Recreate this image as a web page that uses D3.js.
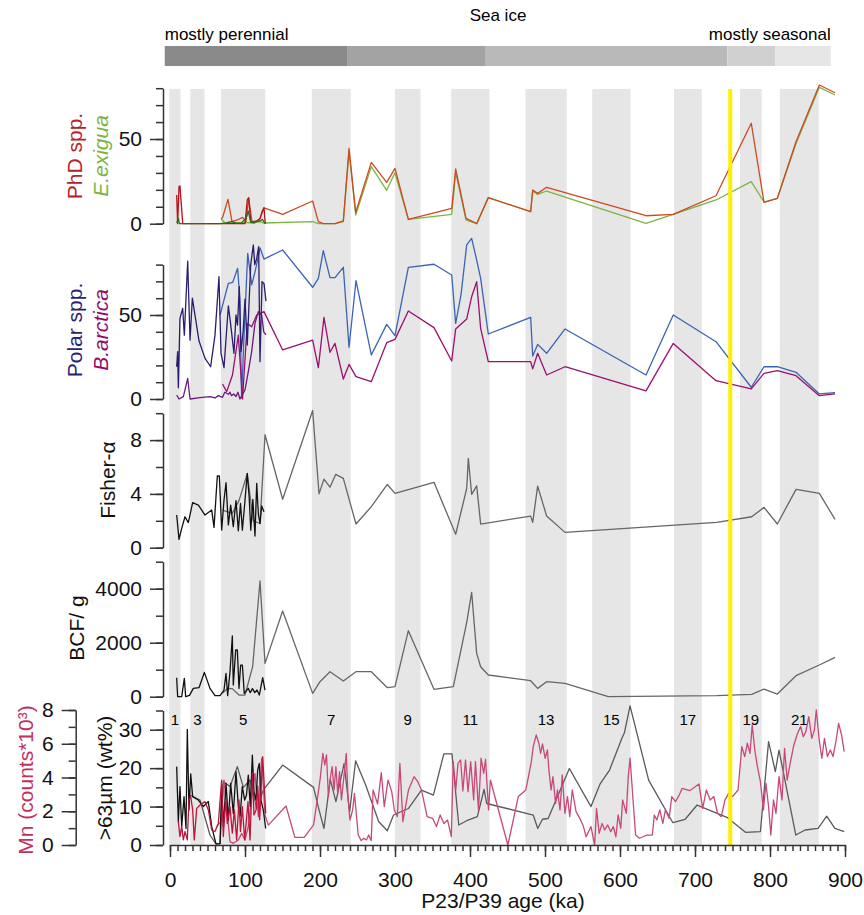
<!DOCTYPE html>
<html>
<head>
<meta charset="utf-8">
<script src="https://cdn.jsdelivr.net/npm/d3@7"></script>
<style>
  body { margin: 0; background: #fff; }
  text { font-family: "Liberation Sans", Arial, sans-serif; }
</style>
</head>
<body>
<div id="chart"></div>
<script>
// ---- data (age ka, value) ----
var phdP23 = [[8.9,16.9],[10.2,0],[12,21.9],[13.3,22.3],[17,0],[66.7,0],[100,0],[103,14],[104.9,15.4],[107.6,1.2],[112,1],[116,1.5],[120,3],[122.7,7],[125.3,9.4],[127,0]];
var exiguaP23 = [[8.9,0.5],[11.1,3.1],[12.5,0],[66.7,0],[75,0.5],[82,1.2],[88,0.3],[95,0.5],[101.3,3.1],[104.4,7.5],[107.6,1],[112,0.5],[116,1.5],[120,1.6],[123,2.5],[127,0]];
var phdP39 = [[68,3],[70,3.5],[77.3,14.4],[82.7,1.2],[89.8,2.2],[96.9,3.7],[101.3,1.2],[104.9,15],[109.3,1.2],[115.6,1.6],[120,3.1],[125.3,9.4],[150.2,5.5],[190.2,13.4],[197.8,1.2],[204.4,0],[220,0],[231.1,1.6],[238.7,44.5],[247.6,6.7],[268.4,36.2],[288.9,24.4],[300,32.7],[317.8,2.6],[375.6,9],[380.9,32.3],[394.7,3.1],[408.9,0],[424.4,15.4],[480.9,7.1],[483.6,19.9],[490.2,17.9],[502.2,21.5],[634.7,4.7],[671,5.5],[728,16.5],[775,59.3],[792,12.6],[809.8,15],[834.7,48.4],[865.8,81.9],[886.7,77.3]];
var exiguaP39 = [[68,3],[73.3,0.4],[82,1.2],[90,0.4],[100,0.8],[110,0.4],[120,1.2],[125.3,0.4],[190.2,1.2],[197.8,0],[220,0],[231.1,1.2],[238.7,42.5],[247.6,5.1],[268.4,33.7],[288.9,19.7],[300,30.1],[317.8,2.6],[375.6,5.5],[380.9,30.3],[394.7,2.2],[408.9,0],[424.4,15.4],[480.9,7.1],[483.6,19.3],[490.2,17.3],[502.2,19.3],[634.7,0.2],[671,5.5],[728,14],[775,24.8],[792,12.8],[809.8,15],[834.7,47.4],[865.8,80.5],[886.7,76]];

var polarP23 = [[8.9,19.2],[10.2,28.2],[11.1,6.7],[13.3,48],[16.9,54],[19.1,38],[23.6,82],[26.7,35],[29.8,60],[38.7,34.5],[46.7,24.2],[54.2,19.2],[60,38],[65.3,72.8],[68,27.2],[72,18.7],[77.8,55.4],[80.9,44.4],[85.3,27.2],[88,50],[90,44],[92.4,66.9],[94.7,28.2],[97.5,40],[100,59.5],[103,32.1],[107.6,79.8],[111.1,91.7],[113,80],[115.6,83.7],[118.2,90.7],[120,22.2],[122.7,69.8],[125.3,68.8],[128,58.3]];
var polarP39 = [[66.7,50],[77.8,68.8],[83.6,69.4],[90.2,77.8],[93,60],[95.5,0.5],[98,30],[103.6,86.7],[108.9,67.9],[113,75],[117.8,84.7],[120,90],[125.3,83.3],[150.2,88.7],[190.2,66.5],[197.8,71.8],[204.4,88.3],[213.3,72.2],[220,72.2],[231.1,78.4],[238.7,30.8],[248,70.4],[268.4,26.2],[288.9,44.4],[300,37.7],[317.8,78.4],[352,80.2],[375.6,73.8],[380.9,45],[388,62],[395.6,91.7],[402.2,95.6],[408.9,82.7],[414.2,71.8],[424.4,38.7],[480.9,48.6],[483.6,25.6],[490.2,32.5],[502.2,27.2],[526.7,41.7],[634.7,14.3],[671,50],[728,34.1],[775,7],[792,19.2],[809.8,19.2],[834.7,15.9],[865.8,3],[886.7,3.8]];
var arcticaP23 = [[8.9,2.4],[12,0],[17.8,1.4],[23.6,12.3],[26.7,0],[40,0.8],[53.3,1.4],[60,0.6],[64.4,2],[70,1],[73,4],[77.8,2.8],[80,4],[82,2],[85,3],[88,1.5],[90.5,4],[93.3,0],[100,5.4],[104.4,16.3],[108.9,28.2],[113.3,45],[117.8,52],[122.2,50],[125,40],[128,38.1]];
var arcticaP39 = [[70,8.9],[75.6,4.4],[83.3,14.3],[91.1,38],[96.7,0],[103,45],[108.9,43],[115.6,50],[125.3,52],[150.2,29.2],[190.2,35.1],[197.8,18.7],[205.3,48.6],[213.3,27.8],[220,33.1],[231.1,11.9],[238.7,20.6],[248,13.3],[268.4,10.3],[288.9,33.5],[300,35.5],[317.8,52.4],[352,42.5],[375.6,22.6],[380.9,41.7],[395.6,47.6],[402.2,60.9],[408.9,69.8],[414.2,42],[424.4,22.2],[480.9,22.2],[483.6,17.9],[490.2,27.2],[502.2,14.3],[526.7,19.2],[634.7,4.8],[671,33.1],[728,10.9],[775,6],[792,15.3],[809.8,16.9],[834.7,13.9],[865.8,2],[886.7,3]];

var fisherP23 = [[8.9,2.43],[12,0.62],[15.6,1.44],[20,2.3],[24.4,1.86],[30.2,3.35],[37.8,3.17],[46.7,2.43],[55.6,2.8],[58.7,1.51],[63.1,5.33],[65.8,5.33],[68.9,1.31],[72,3.54],[74.7,4.83],[77.8,1.69],[80.9,3.17],[84.4,1.56],[88,3.5],[91.1,1.26],[94,3.3],[96.5,1.3],[99.5,3.2],[103,5.53],[105.5,3.8],[107.7,1.3],[110.5,3.6],[113.3,0.87],[115.6,4.78],[117.8,2.5],[120,1.8],[122.2,3.1],[125.3,2.68]];
var fisherP39 = [[70,2.8],[83,2.55],[92,3.5],[103,5.5],[111,2],[120,1.8],[126.7,8.4],[150.2,3.6],[190.2,10.2],[198.7,4],[205.3,5.1],[213.3,4.5],[220.9,5.45],[231.1,5.15],[248,1.76],[268.4,3.05],[289.8,4.7],[300,4.04],[352,4.86],[380.9,1],[395.6,4.4],[397.8,6.64],[402.2,3.97],[408.9,4.6],[414.2,1.76],[480.9,2.35],[483.6,1.88],[490.2,4.58],[502.2,2.35],[526.7,1.14],[728.9,1.88],[775.6,2.3],[792,3.0],[809.8,1.76],[834.7,4.34],[865.8,4.04],[886.7,2.1]];

var bcfP23 = [[8.9,704],[10.2,0],[15.6,0],[19.1,679],[20.9,0],[26,50],[31.1,309],[38.7,333],[45.8,901],[53.3,309],[60,37],[66.7,37],[72,247],[74.7,864],[76.9,37],[80,926],[83.1,2248],[84.4,432],[87.6,1729],[89.8,1729],[92,309],[94.2,1173],[96.5,1173],[99,123],[104.4,309],[107,150],[110,300],[113,150],[116,250],[119.1,62],[123.6,704],[126.7,247]];
var bcfP39 = [[70,123],[76.7,309],[83,300],[92,62],[100,62],[110.2,1111],[120,4285],[126.7,1235],[150.2,3174],[190.2,123],[200,556],[213.3,926],[231.1,580],[248,926],[268.4,926],[289.8,333],[300,370],[317.8,2445],[352,272],[377.8,370],[395.6,2754],[402.2,3866],[408.9,1605],[414.2,1111],[424.4,803],[480.9,593],[490.2,309],[502.2,556],[526.7,494],[584.4,0],[728.9,37],[775.6,86],[792,284],[809.8,99],[834.7,778],[865.8,1173],[886.7,1457]];

var sandP23 = [[8.9,20.4],[11.1,6.1],[13.3,15.2],[15.6,4.8],[18.7,12.6],[21.3,4.3],[23.1,30.1],[25.3,9.1],[27.6,18.5],[30.2,12.6],[37.8,11.7],[44.4,10],[51.1,11.3],[55.6,4.8],[61.3,0.3],[66.7,0.3],[68.9,15.6],[71.1,4.8],[74.7,16],[77.8,6.5],[80.9,16],[84.4,8.2],[88,19.1],[91.1,10],[93.5,7.5],[96.4,15.2],[99.6,11.7],[102,13],[104.4,18.2],[107,10],[109.8,23.4],[112,13.9],[114.7,11.7],[116.9,19.5],[119.1,21.2],[121.3,11.7],[124.4,9.1],[127.6,4.3]];
var sandP39 = [[26.7,13],[40,11.7],[53.3,2.6],[61.3,0.3],[66.7,0.4],[71.1,16.5],[80,15.2],[89.8,20.4],[97.8,15],[106.7,16.9],[115.6,9.5],[124.4,14.3],[150.2,20.8],[191.4,15],[198.8,9.1],[205.3,4.3],[213.7,17.1],[221.2,11.3],[232.1,21.2],[239.5,8.7],[247.5,21.9],[260.9,15.6],[278.2,6.1],[289.7,3.7],[298.1,7.8],[318,9.5],[335.3,14.3],[351.2,13],[365.1,23.7],[376,23.7],[385,5.2],[397.4,6.5],[409.8,7.4],[418.8,14.5],[422.2,10.8],[484.3,7.8],[490.3,4.3],[496.7,6.7],[504.2,6.9],[532.5,19.9],[561.3,10],[573.7,16],[586.1,19.5],[602.5,27.8],[606,29.3],[613.4,36.2],[638.2,16.9],[670.5,5.8],[686.9,6.7],[702.8,10.4],[742.5,7.2],[767.3,3.3],[787.2,3.5],[798.1,26.9],[807.1,19.1],[812,24.7],[834.4,2.6],[846.8,3.9],[864.1,4.3],[875.6,7.5],[886.5,4.3],[899,3.5]];

var mnP23 = [[11.1,1.38],[13.3,0.5],[15.6,1.1],[17.8,0.3],[20,0.8],[23.1,0.3],[25.3,2.67],[27.6,2.87],[30.2,2.08],[32.4,0.3],[35.6,2.17],[40,2.37],[46.7,2.57],[51.1,2.08],[55.6,0.89],[60,0.8],[64.4,1.28],[68.9,3.85],[71.1,0.5],[74.2,2.67],[76.4,1.28],[80,2.27],[83.1,0.7],[85.8,2.08],[88.9,0.3],[92,2.67],[94,0.8],[96.4,2.27],[99.6,0.3],[104,2.57],[106.7,0.3],[109.8,4.25],[112,1.78],[114.7,2.08],[117,3.5],[119.5,1.5],[123.6,5.24],[127.6,1.88]];
var mnP39 = [[62.2,1.08],[67.6,1.38],[72,3.85],[80,0.2],[84.4,0.1],[91.1,0.3],[95.6,0.69],[100,0.3],[104.4,1.08],[108.9,2.87],[113.3,4.25],[117.8,1.68],[122.2,5.14],[126.7,1.78],[131.1,1.18],[154.7,2.31],[166.5,0.45],[179,0.45],[191.4,1.19],[196.3,2.67],[200.3,3.95],[203.8,5.43],[206.3,4.74],[208.7,5.34],[211.2,2.87],[213.7,3.95],[216.2,4.64],[218.7,3.26],[221.2,4.64],[223.6,3.06],[226.1,4.35],[228.6,2.67],[232.1,4.15],[235,5.43],[237.5,2.67],[240,1.48],[243.5,2.08],[246,3.06],[248.5,1.78],[251,0.59],[254.9,0.26],[258.4,0.4],[261.9,0.3],[264.9,0.59],[268.3,0.26],[270.8,3.26],[276.8,2.43],[281.7,4.29],[285.7,2.27],[290.7,3.85],[295.6,3.16],[299.1,2.08],[303.1,1.68],[306.5,4.84],[310.5,1.38],[318,3.26],[325.4,4.05],[330.4,3.75],[335.3,3.26],[342.8,1.68],[350.2,1.58],[355.2,1.09],[360.2,1.78],[365.1,1.28],[370.1,1.48],[375.1,0.49],[377.6,4.94],[381,3.26],[384,4.84],[387.5,5.04],[390.5,3.2],[394,5.04],[397.4,3.16],[400.9,4.94],[404.9,2.67],[407.3,4.94],[411.3,2.08],[414.8,5.14],[418.3,4.25],[420.7,5.08],[424.7,2.08],[427.2,3.85],[450.5,0],[464.4,2.87],[474.4,3.26],[478.4,4.15],[481.8,4.94],[484.3,5.83],[488.3,6.52],[491.8,6.03],[494.2,5.43],[496.7,5.99],[500.2,5.14],[503.2,5.63],[505.2,4.45],[508.1,3.26],[510.6,4.05],[514.1,2.47],[516.6,3.26],[520,2.08],[523,4.15],[526.5,1.88],[530,2.87],[533,1.68],[536.4,3.26],[541.4,1.98],[546.4,1.58],[551.3,1.09],[554.8,0.49],[561.3,1.09],[566.2,0],[568.7,2.17],[572.2,0.69],[576.1,1.28],[579.6,0.89],[583.6,1.19],[587.6,0.79],[591.1,1.09],[594.5,0.49],[597.5,1.78],[601,0.99],[603.5,2.67],[608.4,1.88],[611,4.05],[613.4,5.14],[617.4,2.67],[620.8,0.59],[625.8,0.4],[630.8,0.49],[635.7,0.59],[643.2,0.59],[645.7,1.78],[649.1,1.48],[653.1,2.08],[657.1,1.28],[660.6,2.08],[665.5,1.58],[669,2.87],[674,2.57],[679,2.96],[682.9,3.36],[692.9,3.22],[705.3,3.62],[710.2,2.17],[715.2,3.26],[720.1,2.67],[725.1,2.87],[730.1,1.88],[735,1.68],[740,2.67],[745,3.06],[750,2.87],[757.4,3.26],[762.4,5.83],[766.3,5.24],[769.8,6.03],[773.3,5.43],[776.3,7.11],[779.7,5.63],[783.2,4.64],[787.2,3.75],[791.2,2.08],[794.6,3.66],[798.1,2.27],[801.1,0.59],[804.6,2.67],[808,1.88],[812,4.05],[816,2.67],[819.4,5.73],[822.9,3.85],[826.9,4.84],[831.8,5.93],[836.8,6.62],[840.8,7.02],[844.3,6.42],[847.8,6.72],[851.7,7.61],[855.7,6.32],[859.2,6.82],[861.7,8.0],[865.6,6.23],[869.1,5.14],[872.6,6.32],[876.6,5.24],[880.5,5.63],[884,5.24],[887.5,6.03],[891.5,7.21],[895.4,6.52],[898.9,5.53]];

// interglacial stages
var bands = [[-1,14],[27,46],[68,127],[189,241],[300,334],[375,426],[474,529],[563,614],[672,709],[760,789],[813,865]];
var bandLabels = ["1","3","5","7","9","11","13","15","17","19","21"];
var yellowAge = 747;

// sea ice bar
var iceEdges = [-7, 237, 421, 743, 807, 881];
var iceColors = ["#8a8a8a", "#a3a3a3", "#b9b9b9", "#d0d0d0", "#e6e6e6"];

var xTicksMajor = d3.range(0, 901, 100);
var xTicksMinor = d3.range(0, 901, 10);

// ---- layout ----
var W = 864, H = 915;
var svg = d3.select("#chart").append("svg").attr("width", W).attr("height", H);

var x = d3.scaleLinear().domain([0, 900]).range([170, 845]);

var y1 = d3.scaleLinear().domain([0, 80]).range([223.7, 88.2]);
var y2 = d3.scaleLinear().domain([0, 80]).range([399, 264.6]);
var y3 = d3.scaleLinear().domain([0, 10]).range([547.7, 413.2]);
var y4 = d3.scaleLinear().domain([0, 5000]).range([696.7, 561.7]);
var y5 = d3.scaleLinear().domain([0, 35]).range([845, 710.5]);
var yMn = d3.scaleLinear().domain([0, 8]).range([845, 710]);

var bandTop = 89, bandBottom = 845;

// bands
svg.append("g").selectAll("rect")
  .data(bands)
  .enter().append("rect")
  .attr("x", d => x(d[0]))
  .attr("width", d => x(d[1]) - x(d[0]))
  .attr("y", bandTop)
  .attr("height", bandBottom - bandTop)
  .attr("fill", "#e6e6e6");

svg.append("g").selectAll("text")
  .data(bands)
  .enter().append("text")
  .attr("x", d => x((d[0] + d[1]) / 2))
  .attr("y", 725)
  .attr("text-anchor", "middle")
  .attr("font-size", 15)
  .text((d, i) => bandLabels[i]);

// sea ice
var ice = svg.append("g");
ice.selectAll("rect")
  .data(iceColors)
  .enter().append("rect")
  .attr("x", (d, i) => x(iceEdges[i]))
  .attr("width", (d, i) => x(iceEdges[i + 1]) - x(iceEdges[i]))
  .attr("y", 46).attr("height", 20)
  .attr("fill", d => d);
ice.append("text").attr("x", 498).attr("y", 21).attr("text-anchor", "middle")
  .attr("font-size", 17).text("Sea ice");
ice.append("text").attr("x", x(iceEdges[0])).attr("y", 40)
  .attr("font-size", 17).text("mostly perennial");
ice.append("text").attr("x", x(iceEdges[5])).attr("y", 40).attr("text-anchor", "end")
  .attr("font-size", 17).text("mostly seasonal");

// lines
function drawLine(data, ys, color, w) {
  var line = d3.line().x(d => x(d[0])).y(d => ys(d[1]));
  svg.append("path")
    .datum(data)
    .attr("d", line)
    .attr("fill", "none")
    .attr("stroke", color)
    .attr("stroke-width", w || 1.3)
    .attr("stroke-linejoin", "round");
}

drawLine(exiguaP39, y1, "#7cb342");
drawLine(phdP39, y1, "#cc4a22");
drawLine(phdP23, y1, "#b5121b");
drawLine(exiguaP23, y1, "#2e6b1e");

drawLine(polarP39, y2, "#3b63b5");
drawLine(arcticaP39, y2, "#9b0f6f");
drawLine(arcticaP23, y2, "#6a1a7a");
drawLine(polarP23, y2, "#2a1c6e");

drawLine(fisherP39, y3, "#666666");
drawLine(fisherP23, y3, "#111111");

drawLine(bcfP39, y4, "#666666");
drawLine(bcfP23, y4, "#111111");

drawLine(sandP39, y5, "#5a5a5a");
drawLine(mnP39, yMn, "#c8487a");
drawLine(sandP23, y5, "#111111");
drawLine(mnP23, yMn, "#c0143c");

// yellow line
svg.append("line")
  .attr("x1", x(yellowAge)).attr("x2", x(yellowAge))
  .attr("y1", bandTop).attr("y2", bandBottom)
  .attr("stroke", "#ffee00").attr("stroke-width", 4);

// axes
function styleAxis(g, fs) {
  g.selectAll("path, line").attr("stroke", "#333").attr("stroke-width", 1.5);
  g.selectAll("text").attr("font-size", fs).attr("fill", "#111")
    .attr("font-family", "'Liberation Sans', Arial, sans-serif");
}

function leftAxis(ys, xPos, minor, major, majorLen) {
  var g1 = svg.append("g").attr("transform", "translate(" + xPos + ",0)")
    .call(d3.axisLeft(ys).tickValues(minor).tickSize(7).tickFormat("").tickSizeOuter(0));
  styleAxis(g1, 21);
  var g2 = svg.append("g").attr("transform", "translate(" + xPos + ",0)")
    .call(d3.axisLeft(ys).tickValues(major).tickSize(majorLen || 13).tickPadding(8).tickFormat(d3.format("d")).tickSizeOuter(0));
  g2.select(".domain").remove();
  styleAxis(g2, 21);
}

leftAxis(y1, 163, d3.range(0, 81, 10), [0, 50]);
leftAxis(y2, 163, d3.range(0, 81, 10), [0, 50]);
leftAxis(y3, 163, d3.range(0, 11, 2), [0, 4, 8]);
leftAxis(y4, 163, d3.range(0, 5001, 1000), [0, 2000, 4000]);
leftAxis(y5, 163, d3.range(0, 36, 5), [0, 10, 20, 30]);
leftAxis(yMn, 75.7, d3.range(0, 9, 1), [0, 2, 4, 6, 8], 14);

var gx1 = svg.append("g").attr("transform", "translate(0,845)")
  .call(d3.axisBottom(x).tickValues(xTicksMinor).tickSize(6).tickFormat("").tickSizeOuter(0));
styleAxis(gx1, 21);
var gx2 = svg.append("g").attr("transform", "translate(0,845)")
  .call(d3.axisBottom(x).tickValues(xTicksMajor).tickSize(12).tickPadding(15).tickFormat(d3.format("d")).tickSizeOuter(0));
gx2.select(".domain").remove();
styleAxis(gx2, 21);

svg.append("text").attr("x", 503).attr("y", 908).attr("text-anchor", "middle")
  .attr("font-size", 21).attr("fill", "#111").text("P23/P39 age (ka)");

// y labels
function yLabel(tx, ty, txt, color, italic) {
  svg.append("text")
    .attr("transform", "translate(" + tx + "," + ty + ") rotate(-90)")
    .attr("text-anchor", "middle")
    .attr("font-size", 21)
    .attr("font-style", italic ? "italic" : "normal")
    .attr("fill", color)
    .text(txt);
}
yLabel(82, 156, "PhD spp.", "#b8202a");
yLabel(108, 156, "E.exigua", "#78b443", true);
yLabel(82, 330, "Polar spp.", "#2b1f73");
yLabel(108, 330, "B.arctica", "#8f0c6b", true);
yLabel(115, 480, "Fisher-\u03b1", "#111");
yLabel(84, 628, "BCF/ g", "#111");
yLabel(112, 778, ">63\u00b5m (wt%)", "#111");
yLabel(33, 780, "Mn (counts*10\u00b3)", "#c0325e");
</script>
</body>
</html>
